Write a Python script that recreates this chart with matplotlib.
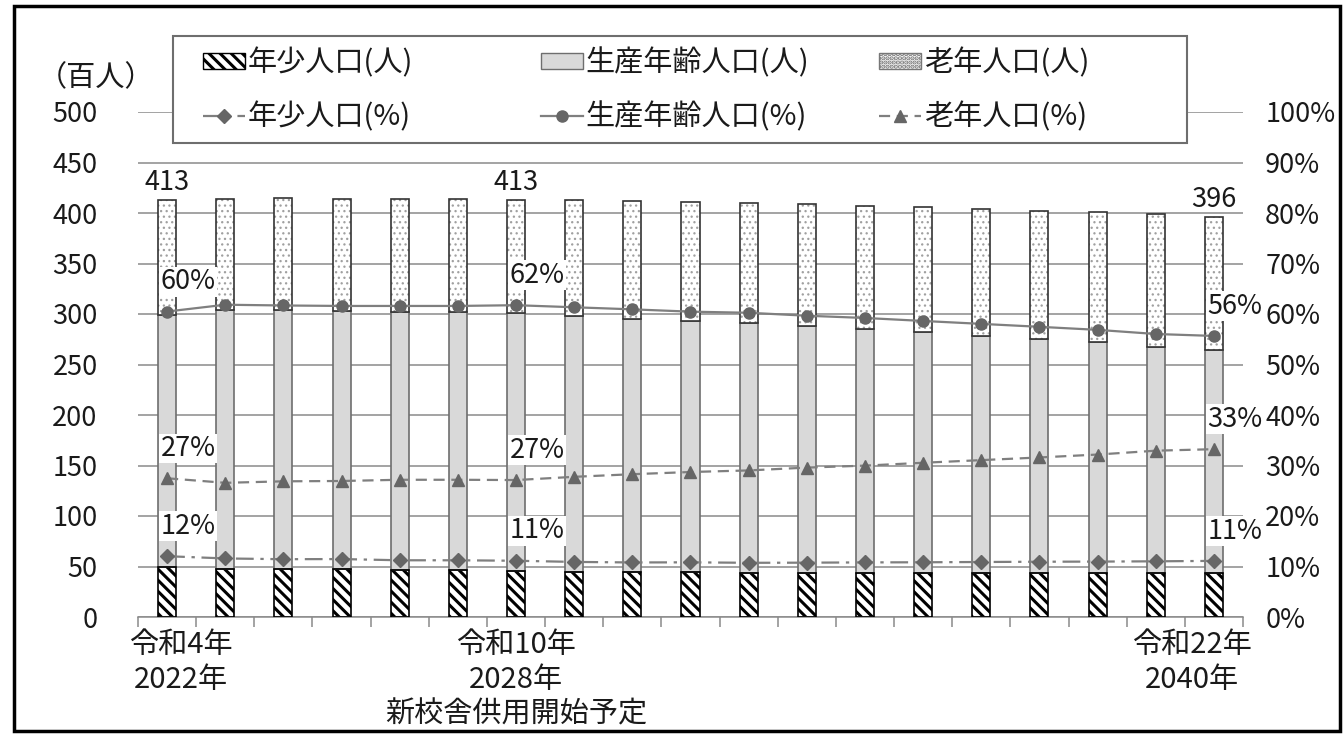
import matplotlib
matplotlib.use('Agg')
import matplotlib.pyplot as plt
from matplotlib.patches import Rectangle
import matplotlib.transforms as mtransforms

plt.rcParams['font.family'] = ['Noto Sans CJK JP', 'DejaVu Sans']
plt.rcParams['hatch.linewidth'] = 2.2

# ---------------- data (百人) ----------------
years = list(range(2022, 2041))
young = [49.7, 48.0, 47.5, 47.5, 46.5, 46.5, 46.0, 45.0, 44.5, 44.5,
         44.0, 44.0, 44.0, 44.0, 44.0, 44.0, 44.0, 44.0, 44.0]
working = [249.7, 256.0, 256.0, 255.0, 255.0, 255.0, 255.0, 253.0, 251.0, 248.5,
           247.0, 244.0, 241.0, 238.0, 234.5, 231.0, 228.0, 223.6, 220.4]
elderly = [113.4, 110.0, 111.5, 111.5, 112.5, 112.5, 112.0, 114.5, 116.5, 118.0,
           119.0, 121.0, 122.0, 124.0, 125.5, 127.0, 129.0, 131.4, 131.6]

bar_names = ['年少人口(人)', '生産年齢人口(人)', '老年人口(人)']
pct_names = ['年少人口(%)', '生産年齢人口(%)', '老年人口(%)']
left_ticks = [0, 50, 100, 150, 200, 250, 300, 350, 400, 450, 500]
right_ticks = [0, 0.1, 0.2, 0.3, 0.4, 0.5, 0.6, 0.7, 0.8, 0.9, 1.0]
x_labels = {0: '令和4年\n2022年', 6: '令和10年\n2028年\n新校舎供用開始予定', 18: '令和22年\n2040年'}
labelled_idx = [0, 6, 18]
y_unit = '（百人）'

# ---------------- derived ----------------
n = len(years)
x = list(range(n))
total = [a + b + c for a, b, c in zip(young, working, elderly)]
bottom2 = [a + b for a, b in zip(young, working)]
p_young = [a / t for a, t in zip(young, total)]
p_work = [a / t for a, t in zip(working, total)]
p_old = [a / t for a, t in zip(elderly, total)]

W, H = 1344, 735
fig = plt.figure(figsize=(W / 100, H / 100), dpi=100)
ax = fig.add_axes([138 / W, 1 - 617 / H, (1243 - 138) / W, (617 - 112) / H])
FS = 19.5      # numeric labels
FSJ = 21       # Japanese text
TXT = '#1a1a1a'

bw = 0.31
# young: hatched
ax.bar(x, young, width=bw, color='white', edgecolor='black', hatch='\\\\\\', linewidth=0, zorder=2)
ax.bar(x, young, width=bw, fill=False, edgecolor='black', linewidth=1.2, zorder=3)
# working
ax.bar(x, working, bottom=young, width=bw, color='#d9d9d9', edgecolor='#6e6e6e', linewidth=1.2, zorder=2)
# elderly: dotted
with plt.rc_context({'hatch.linewidth': 0.9}):
    ax.bar(x, elderly, bottom=bottom2, width=bw, color='white', edgecolor='#a0a0a0', hatch='...',
           linewidth=0, zorder=2)
ax.bar(x, elderly, bottom=bottom2, width=bw, fill=False, edgecolor='#333333', linewidth=1.2, zorder=3)

ax.set_xlim(-0.5, n - 0.5)
ax.set_ylim(0, 500)
ax.set_yticks(left_ticks)
ax.grid(axis='y', color='#8a8a8a', linewidth=1.1, zorder=0)
ax.set_axisbelow(True)
for s in ['top', 'left', 'right']:
    ax.spines[s].set_visible(False)
ax.spines['bottom'].set_color('#8a8a8a')
ax.spines['bottom'].set_linewidth(1.1)
ax.set_xticks([i - 0.5 for i in range(n + 1)])
ax.set_xticklabels([])
ax.tick_params(axis='x', length=7, color='#8a8a8a', width=1.1, direction='out')
ax.tick_params(axis='y', length=0, pad=29, labelsize=FS, labelcolor=TXT)

# x category labels
trans = mtransforms.blended_transform_factory(ax.transData, ax.transAxes)
LY = -0.026
for i, lab in x_labels.items():
    if i == 0:
        kw = dict(x=-0.66, ha='left')
    elif i == n - 1:
        kw = dict(x=n - 0.35, ha='right')
    else:
        kw = dict(x=i, ha='center')
    ax.text(kw['x'], LY, lab, transform=trans, ha=kw['ha'], va='top', multialignment='center',
            fontsize=FSJ, color=TXT, linespacing=1.2)

# total labels
for i in labelled_idx:
    ax.annotate(f'{total[i]:.0f}', (x[i], total[i]), xytext=(0, 3), textcoords='offset points',
                ha='center', va='bottom', fontsize=FS, color=TXT, zorder=6)

# percentage axis
ax2 = ax.twinx()
ax2.set_ylim(0, 1)
ax2.set_yticks(right_ticks)
ax2.set_yticklabels([f'{int(round(v * 100))}%' for v in right_ticks])
ax2.tick_params(axis='y', length=0, pad=16, labelsize=FS, labelcolor=TXT)
for s in ax2.spines.values():
    s.set_visible(False)

lc = '#7f7f7f'
mc = '#666666'
l_young, = ax2.plot(x, p_young, color=lc, linestyle=(0, (8, 3, 1.5, 3)), linewidth=1.6,
                    marker='D', markersize=7, markerfacecolor=mc, markeredgecolor=mc, zorder=4)
l_work, = ax2.plot(x, p_work, color=lc, linestyle='-', linewidth=1.6,
                   marker='o', markersize=8, markerfacecolor=mc, markeredgecolor=mc, zorder=4)
l_old, = ax2.plot(x, p_old, color=lc, linestyle=(0, (5, 3)), linewidth=1.6,
                  marker='^', markersize=8, markerfacecolor=mc, markeredgecolor=mc, zorder=4)

for series in (p_young, p_work, p_old):
    for i in labelled_idx:
        ax2.annotate(f'{series[i] * 100:.0f}%', (x[i], series[i]), xytext=(15, 21.5), textcoords='offset points',
                     ha='center', va='center', fontsize=FS, color=TXT, zorder=7,
                     bbox=dict(boxstyle='square,pad=0.05', facecolor='white', edgecolor='none'))

# legend frame
fig.patches.append(Rectangle((173 / W, 1 - 143 / H), (1187 - 173) / W, (143 - 36) / H,
                             transform=fig.transFigure, facecolor='white', edgecolor='#6e6e6e',
                             linewidth=1.5, zorder=3))

bar_handles = [
    Rectangle((0, 0), 1, 1, facecolor='white', edgecolor='black', hatch='\\\\\\', linewidth=1.0),
    Rectangle((0, 0), 1, 1, facecolor='#d9d9d9', edgecolor='#6e6e6e', linewidth=1.0),
    Rectangle((0, 0), 1, 1, facecolor='white', edgecolor='#777777', hatch='....', linewidth=1.0),
]
line_handles = [l_young, l_work, l_old]
col_x = [203, 541, 879]
for k in range(3):
    fig.legend([bar_handles[k], line_handles[k]], [bar_names[k], pct_names[k]],
               loc='upper left', bbox_to_anchor=(col_x[k] / W, 1 - 48 / H), frameon=False,
               borderpad=0, borderaxespad=0, fontsize=FSJ, handlelength=1.45, handleheight=0.48,
               handletextpad=0.08, labelspacing=0.81, numpoints=1, labelcolor=TXT)

fig.text(38 / W, 1 - 78 / H, y_unit, ha='left', va='center', fontsize=FSJ, color=TXT)

# outer border
fig.patches.append(Rectangle((14 / W, 1 - 731 / H), (1340 - 14) / W, (731 - 6) / H,
                             transform=fig.transFigure, facecolor='none', edgecolor='black',
                             linewidth=2.5, zorder=10))

fig.savefig('out.png', dpi=100, facecolor='white')
